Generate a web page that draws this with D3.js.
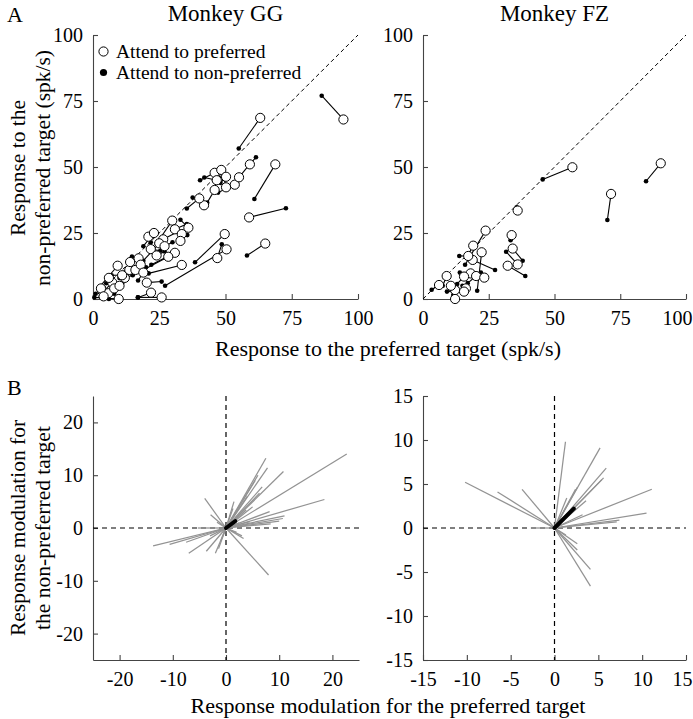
<!DOCTYPE html>
<html><head><meta charset="utf-8">
<script src="https://cdn.jsdelivr.net/npm/d3@7"></script>
<style>
body{margin:0;background:#fff;}
svg{display:block;}
text{font-family:"Liberation Serif","Times New Roman",serif;fill:#000;}
</style></head>
<body>
<svg id="c" width="693" height="719"></svg>
<script>
// ---------- DATA ----------
// Monkey GG: open = attend to preferred, filled = attend to non-preferred (paired by index)
const ggOpen = [[94.5,68],[63.1,68.6],[68.8,51],[58.9,30.9],[65,21],[59.2,51],[49.7,24.6],[50.4,18.8],[46.9,15.5],
 [45.9,47.8],[48.4,48.9],[50.2,46.3],[53.5,43.3],[50.2,42.3],[55.1,46.1],[45.9,41.3],[41.9,35.5],[40.1,38.1],[46.7,45],
 [29.9,29.7],[30.9,26.4],[33.5,24.6],[20.9,23.6],[26.5,22.6],[25,21.1],[21.8,18.9],[30.9,17.5],[28.4,16],[17.2,15.4],
 [9.3,12.6],[13.7,11],[33.5,12.9],[20.3,6.2],[21.9,2.4],[25.9,0.6],[9.7,0],[7.3,6.2],[5.8,2.2],[12,8],[8,4],[14,14],
 [11,9],[3,4],[16,11],[24,16.5],[27,20],[18,13],[6,8],[10,5],[19,10],[33,22],[36,27],[4,1],[23,25]];
const ggFilled = [[86.3,77],[55,57],[60.9,37.9],[72.8,34.4],[58.1,16.5],[61.5,53.7],[38.5,13.9],[27.2,5],[48.6,20.7],
 [40.4,45],[47.6,45.8],[48.1,44],[47.2,40.3],[49.5,45.5],[58.6,50.4],[43.1,36.5],[37.6,38.4],[35.4,34.3],[42,46],
 [24,21],[35.4,28.4],[35.6,24.2],[21.8,21.5],[32,25.5],[19,14.5],[25.4,18.3],[22,13],[18,10.5],[14.7,16.1],
 [2,4],[10,8],[21,9.7],[25.9,6.6],[17,0.6],[16.9,0.6],[0.5,0.6],[4,3],[3,1],[15,9],[11,6],[12,10],
 [7,9],[1,2],[20,12],[27,18],[30,21.5],[16,12],[5,6],[8,2],[17,7],[34,25],[33,30],[6,0],[19,20]];
// Monkey FZ
const fzOpen = [[56.8,49.9],[90.4,51.4],[71.5,39.8],[36,33.5],[33.7,24.2],[34.1,19.1],[32.2,12.6],[36,13.1],
 [23.8,25.9],[19.1,20.2],[22.3,17.7],[18.9,14.8],[17.2,16.3],[18.1,9.7],[20.2,8.7],[23.3,8.1],[15.6,8.5],
 [16.3,4],[12.2,3.4],[12.2,0],[9,8.7],[6.1,5.3],[15.6,2.8],[10.6,5]];
const fzFilled = [[45.5,45.3],[84.8,44.6],[70.1,29.9],[35.6,34.7],[33.3,22.3],[37.9,14.5],[38.9,8.7],[31.6,17.9],
 [16,13],[17,16.5],[20.6,3.1],[27.4,11],[13.8,16.3],[14,10],[17,6],[22,10],[13,5.7],
 [15,5],[10.4,4],[11.5,1.5],[7.5,5],[3.3,3.5],[9.1,2.8],[13,4]];
// Response modulation vectors (preferred, non-preferred)
const ggMod = [[22.7,14],[18.5,5.4],[7.5,13.2],[7.8,11.4],[10.8,10.7],[6.8,7.8],[6.3,6.6],[11,2.3],[10.7,1.8],
 [10,1.3],[8.4,0.8],[8.2,3.1],[3.8,3.4],[1.5,5],[1.3,3.7],[-4,5.6],[-2.9,2.5],[-13.7,-3.4],[-10.6,-3.1],
 [-7.5,-2.7],[-7,-4.8],[-3.7,-4.4],[-2,-4.8],[-1.4,-3.9],[3.3,-2],[8,-8.9],[2,-0.8],[-1.7,1.1],[-5.3,0],
 [5,4],[4,6],[2,2],[5.5,9],[6,10],[3,-1.5],[-1,-2.5],[-3,-1.5],[4.5,1.2],[2.5,1]];
const ggMean = [1.75,1.3];
const fzMod = [[1.25,9.8],[5.2,9.1],[5.9,6.8],[5.6,5.7],[5.4,5.5],[11.1,4.4],[10.5,1.7],[7.4,0.9],[7.1,0.7],
 [2.6,4.6],[1.4,3.4],[3.6,3.1],[2.4,4.4],[3.2,1.5],[-10.2,5.2],[-6.5,4.1],[-3.7,4.4],[-2.7,0],[4.1,-4.7],
 [4.1,-6.6],[2.6,-2.5],[2.6,-1.8],[1.3,-0.8]];
const fzMean = [2.2,2.2];
const topTicks = [0,25,50,75,100];
const ggModTicks = [-20,-10,0,10,20];
const fzModTicks = [-15,-10,-5,0,5,10,15];
const titles = ["Monkey GG","Monkey FZ"];
const legendLabels = ["Attend to preferred","Attend to non-preferred"];

// ---------- DRAW ----------
const svg = d3.select("#c");
const AX = "#444";
const W = 693;
const fmt = d => (d < 0 ? "-" + Math.abs(d) : String(d));

function styleAxis(g){
  g.selectAll("path.domain").attr("stroke",AX).attr("stroke-width",1.1);
  g.selectAll(".tick line").attr("stroke",AX).attr("stroke-width",1.1);
  g.selectAll(".tick text").attr("font-family","Liberation Serif").attr("font-size",20).attr("fill","#000");
}

function axes(x, y, xt, yt, x0, y0){
  const gx = svg.append("g").attr("transform",`translate(0,${y0})`)
    .call(d3.axisBottom(x).tickValues(xt).tickFormat(fmt).tickSize(-5).tickSizeOuter(0).tickPadding(12));
  styleAxis(gx);
  // keep the right-most label inside the picture
  gx.selectAll(".tick text").each(function(d){
    const bb = this.getBBox(); const px = x(d);
    const over = px + bb.width/2 - (W - 1);
    if (over > 0) d3.select(this).attr("dx", -over);
  });
  const gy = svg.append("g").attr("transform",`translate(${x0},0)`)
    .call(d3.axisLeft(y).tickValues(yt).tickFormat(fmt).tickSize(-5).tickSizeOuter(0).tickPadding(10));
  styleAxis(gy);
}

// top scatter panels
function scatterPanel(x0, x1, openPts, filledPts, title){
  const x = d3.scaleLinear().domain([0,100]).range([x0,x1]);
  const y = d3.scaleLinear().domain([0,100]).range([299,35]);
  axes(x,y,topTicks,topTicks,x0,299);
  svg.append("line").attr("x1",x(0)).attr("y1",y(0)).attr("x2",x(100)).attr("y2",y(100))
    .attr("stroke","#000").attr("stroke-width",1).attr("stroke-dasharray","4,3");
  const g = svg.append("g");
  g.selectAll("line.pair").data(openPts).join("line").attr("class","pair")
    .attr("x1",d=>x(d[0])).attr("y1",d=>y(d[1]))
    .attr("x2",(d,i)=>x(filledPts[i][0])).attr("y2",(d,i)=>y(filledPts[i][1]))
    .attr("stroke","#000").attr("stroke-width",1.1);
  g.selectAll("circle.f").data(filledPts).join("circle").attr("class","f")
    .attr("cx",d=>x(d[0])).attr("cy",d=>y(d[1])).attr("r",2.3).attr("fill","#000");
  g.selectAll("circle.o").data(openPts).join("circle").attr("class","o")
    .attr("cx",d=>x(d[0])).attr("cy",d=>y(d[1])).attr("r",4.6)
    .attr("fill","#fff").attr("stroke","#000").attr("stroke-width",1);
  svg.append("text").attr("x",(x0+x1)/2).attr("y",21).attr("text-anchor","middle")
    .attr("font-size",23).text(title);
}
scatterPanel(93,358,ggOpen,ggFilled,titles[0]);
scatterPanel(423,686,fzOpen,fzFilled,titles[1]);

// legend
svg.append("circle").attr("cx",103.5).attr("cy",51.5).attr("r",4.6).attr("fill","#fff").attr("stroke","#000");
svg.append("circle").attr("cx",103.5).attr("cy",72.5).attr("r",3.6).attr("fill","#000");
svg.append("text").attr("x",116).attr("y",58).attr("font-size",19.5).text(legendLabels[0]);
svg.append("text").attr("x",116).attr("y",79).attr("font-size",19.5).text(legendLabels[1]);

// bottom vector panels
function vectorPanel(x0, x1, lim, ticks, mods, mean){
  const x = d3.scaleLinear().domain([-lim,lim]).range([x0,x1]);
  const y = d3.scaleLinear().domain([-lim,lim]).range([660,396]);
  axes(x,y,ticks,ticks,x0,660);
  svg.append("line").attr("x1",x(0)).attr("x2",x(0)).attr("y1",y(lim)).attr("y2",y(-lim))
    .attr("stroke","#000").attr("stroke-width",1.2).attr("stroke-dasharray","5,4");
  svg.append("line").attr("x1",x(-lim)).attr("x2",x(lim)).attr("y1",y(0)).attr("y2",y(0))
    .attr("stroke","#000").attr("stroke-width",1.2).attr("stroke-dasharray","5,4");
  svg.append("g").selectAll("line").data(mods).join("line")
    .attr("x1",x(0)).attr("y1",y(0)).attr("x2",d=>x(d[0])).attr("y2",d=>y(d[1]))
    .attr("stroke","#939393").attr("stroke-width",1.25);
  svg.append("line").attr("x1",x(0)).attr("y1",y(0)).attr("x2",x(mean[0])).attr("y2",y(mean[1]))
    .attr("stroke","#000").attr("stroke-width",4).attr("stroke-linecap","round");
}
vectorPanel(93,359,25,ggModTicks,ggMod,ggMean);
vectorPanel(423,686,15,fzModTicks,fzMod,fzMean);

// panel letters
svg.append("text").attr("x",7).attr("y",22).attr("font-family","Liberation Sans").attr("font-size",22).text("A");
svg.append("text").attr("x",7).attr("y",395).attr("font-family","Liberation Sans").attr("font-size",22).text("B");

// axis titles
function vtext(cx, cy, str){
  svg.append("text").attr("transform",`translate(${cx},${cy}) rotate(-90)`)
    .attr("text-anchor","middle").attr("font-size",21.5).text(str);
}
vtext(25,168,"Response to the");
vtext(50,168,"non-preferred target (spk/s)");
vtext(25,528,"Response modulation for");
vtext(50,528,"the non-preferred target");
svg.append("text").attr("x",388).attr("y",356).attr("text-anchor","middle").attr("font-size",22)
  .text("Response to the preferred target (spk/s)");
svg.append("text").attr("x",388).attr("y",713).attr("text-anchor","middle").attr("font-size",22)
  .text("Response modulation for the preferred target");
</script>
</body></html>
